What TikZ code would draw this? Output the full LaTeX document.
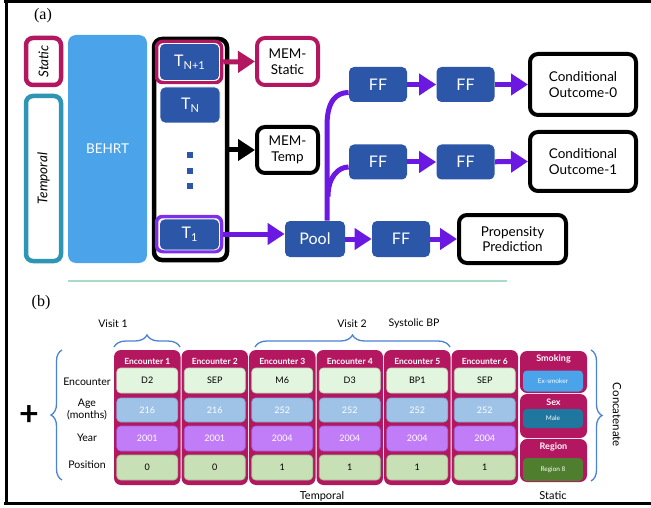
\documentclass[tikz,border=0pt]{standalone}
\usepackage{fontspec}
\setmainfont{Lato}
\newfontfamily\serifa{Liberation Serif}
\usetikzlibrary{arrows.meta,decorations.pathreplacing,calc}
\definecolor{mag}{HTML}{B3175F}
\definecolor{teal}{HTML}{2E96B4}
\definecolor{bhblue}{HTML}{4BA3E9}
\definecolor{dblue}{HTML}{2C56A7}
\definecolor{purp}{HTML}{6A18E2}
\definecolor{tpurp}{HTML}{7D2FEA}
\definecolor{braceb}{HTML}{4C82D4}
\definecolor{ca}{HTML}{E1F5DF}\definecolor{cad}{HTML}{B9D4B4}
\definecolor{cb}{HTML}{9EC3E7}\definecolor{cbd}{HTML}{7FA6CC}
\definecolor{cc}{HTML}{C17DF8}\definecolor{ccd}{HTML}{A060DA}
\definecolor{cd}{HTML}{C7E0B5}\definecolor{cdd}{HTML}{9FBF8C}
\definecolor{male}{HTML}{1F77A0}
\definecolor{regg}{HTML}{4E7E2E}
\definecolor{sepg}{HTML}{A9DCC6}
\begin{document}
\begin{tikzpicture}[x=1pt,y=-1pt,
  tbox/.style={fill=dblue, draw=white, line width=0.8pt, rounded corners=5pt, text=white, inner sep=0pt,
     minimum width=60pt, minimum height=36pt, font=\fontsize{16}{16}\selectfont},
  wbox/.style={draw=black, line width=4pt, rounded corners=8pt, fill=white, align=center, inner sep=0pt,
     font=\fontsize{13.5}{15.5}\selectfont},
  arr/.style={line width=5pt, -{Triangle[length=17pt,width=21pt]}},
  pline/.style={line width=5pt, purp},
  encol/.style={fill=mag, rounded corners=7pt, minimum width=66.5pt, minimum height=135pt, inner sep=0pt},
  enchead/.style={text=white, font=\bfseries\fontsize{8.5}{9}\selectfont, inner sep=0pt},
  cell/.style={rounded corners=4pt, line width=0.7pt, minimum width=61pt, minimum height=24pt, inner sep=0pt,
     font=\fontsize{9}{9}\selectfont},
  stbox/.style={fill=mag, rounded corners=7pt, minimum width=67pt, inner sep=0pt},
  sthead/.style={text=white, font=\bfseries\fontsize{9}{9}\selectfont, inner sep=0pt},
  stcell/.style={rounded corners=4pt, minimum width=60pt, inner sep=0pt, text=white, font=\fontsize{6.5}{7}\selectfont},
  rowlab/.style={align=center, inner sep=0pt, font=\fontsize{10.5}{12}\selectfont},
  brc/.style={draw=braceb, line width=1.3pt, decorate},
  lab/.style={inner sep=0pt, font=\fontsize{10.5}{12}\selectfont}
]
\useasboundingbox (0,0) rectangle (651,508);
\fill[white] (0,0) rectangle (651,508);
% frame
\draw[line width=3.5pt] (4,1.5) -- (651,1.5);
\draw[line width=3.5pt] (4,503.5) -- (651,503.5);
\draw[line width=3pt] (6,0) -- (6,505);
\draw[sepg, line width=1.8pt] (68,281) -- (507,281);

% ---------- panel (a)
\node[inner sep=0pt, font=\serifa\fontsize{16}{16}\selectfont] (la) at (43,16) {(a)};
\node[draw=mag, line width=4.5pt, rounded corners=7pt, rotate=90, minimum width=47pt, minimum height=35pt, inner sep=0pt,
  font=\itshape\fontsize{13.5}{14}\selectfont] (static) at (43.5,61.5) {Static};
\node[draw=teal, line width=4.5pt, rounded corners=7pt, rotate=90, minimum width=165pt, minimum height=35pt, inner sep=0pt,
  font=\itshape\fontsize{13.5}{14}\selectfont] (temporal) at (43.5,178.5) {Temporal};
\node[fill=bhblue, rounded corners=8pt, minimum width=79pt, minimum height=228pt, text=white, inner sep=0pt,
  font=\fontsize{13.5}{14}\selectfont] (behrt) at (107.5,149) {BEHRT};
\node[draw=black, line width=4.5pt, rounded corners=8pt, minimum width=73pt, minimum height=221pt, inner sep=0pt] (stack) at (190.5,149.5) {};
\node[draw=mag, line width=3.5pt, rounded corners=6pt, minimum width=65pt, minimum height=41pt, inner sep=0pt] (tn1f) at (189,62) {};
\node[tbox, minimum height=37pt] (tn1) at (189.5,62) {T\raisebox{-3pt}{\fontsize{11}{11}\selectfont N+1}};
\node[tbox] (tn) at (190,105) {T\raisebox{-3pt}{\fontsize{11}{11}\selectfont N}};
\foreach \k/\yy in {1/155,2/171,3/186}{
  \node[fill=dblue, minimum size=6pt, inner sep=0pt] (dot\k) at (190,\yy) {};
}
\node[draw=tpurp, line width=3.5pt, rounded corners=6pt, minimum width=65pt, minimum height=35pt, inner sep=0pt] (t1f) at (189,234) {};
\node[tbox, minimum height=31pt] (t1) at (189.5,234.5) {T\raisebox{-3pt}{\fontsize{11}{11}\selectfont 1}};
\node[wbox, draw=mag, minimum width=61pt, minimum height=47pt] (mems) at (287.5,61.5) {MEM-\\Static};
\node[wbox, minimum width=61pt, minimum height=46pt] (memt) at (287.5,150) {MEM-\\Temp};
\node[tbox, draw=none] (pool) at (315,239) {Pool};
\node[tbox, draw=none, minimum width=58pt, minimum height=35pt] (ff1) at (378,84.5) {FF};
\node[tbox, draw=none, minimum width=58pt, minimum height=35pt] (ff2) at (465.5,84.5) {FF};
\node[wbox, minimum width=106pt, minimum height=61pt] (co0) at (583,84.5) {Conditional\\Outcome-0};
\node[tbox, draw=none, minimum width=58pt, minimum height=35pt] (ff3) at (378,162) {FF};
\node[tbox, draw=none, minimum width=58pt, minimum height=35pt] (ff4) at (465.5,162) {FF};
\node[wbox, minimum width=106pt, minimum height=59pt] (co1) at (583,161.5) {Conditional\\Outcome-1};
\node[tbox, draw=none, minimum width=58pt, minimum height=36pt] (ff5) at (401,239) {FF};
\node[wbox, minimum width=107pt, minimum height=48pt] (prop) at (512.5,239) {Propensity\\Prediction};

\draw[arr, mag] (tn1f.east) -- (mems.west);
\draw[arr, black] (stack.east |- memt.west) -- (memt.west);
\draw[arr, purp] (t1f.east) -- (pool.west |- t1f.east);
\draw[pline] ([xshift=12pt]pool.north) -- ++(0,-95) .. controls +(0,-25) and +(-12,0) .. ([yshift=-8pt]ff1.west);
\draw[pline] ([xshift=13pt,yshift=24pt]pool.north) .. controls +(0,-20) and +(-10,0) .. ([yshift=-5pt]ff3.west);
\draw[arr, purp] (ff1) -- (ff2);
\draw[arr, purp] (ff2) -- (co0.west);
\draw[arr, purp] (ff3) -- (ff4);
\draw[arr, purp] (ff4) -- (co1.west);
\draw[arr, purp] (pool) -- (ff5);
\draw[arr, purp] (ff5) -- (prop.west);

% ---------- panel (b)
\node[inner sep=0pt, font=\serifa\fontsize{16}{16}\selectfont] (lb) at (41,303) {(b)};
\node[lab] (v1) at (113,324) {Visit 1};
\node[lab] (v2) at (352,324) {Visit 2};
\node[lab] (sbp) at (414,324) {Systolic BP};
\coordinate (b1a) at (114,347); \coordinate (b1b) at (180,347);
\coordinate (b2a) at (255,347); \coordinate (b2b) at (450,347);
\coordinate (bla) at (62,480); \coordinate (blb) at (62,350);
\coordinate (bra) at (591,350); \coordinate (brb) at (591,481);
\draw[brc, decoration={brace, amplitude=12pt}] (b1a) -- (b1b);
\draw[brc, decoration={brace, amplitude=12pt}] (b2a) -- (b2b);
\draw[brc, decoration={brace, amplitude=11pt}] (bla) -- (blb);
\draw[brc, decoration={brace, amplitude=11pt}] (bra) -- (brb);
\node[inner sep=0pt, font=\bfseries\fontsize{34}{34}\selectfont] (plus) at (29,416) {+};
\node[rowlab] (rl1) at (87,382) {Encounter};
\node[rowlab] (rl2) at (87,410) {Age\\(months)};
\node[rowlab] (rl3) at (87,438) {Year};
\node[rowlab] (rl4) at (87,465) {Position};

\foreach \i/\e/\a/\yr/\p in {1/D2/216/2001/0, 2/SEP/216/2001/0, 3/M6/252/2004/1, 4/D3/252/2004/1, 5/BP1/252/2004/1, 6/SEP/252/2004/1} {
  \pgfmathsetmacro\cx{147.25+67.5*(\i-1)}
  \node[encol] (col\i) at (\cx,417.5) {};
  \node[enchead] (h\i) at (\cx,361) {Encounter \i};
  \node[cell, fill=ca, draw=cad, minimum height=25pt] (e\i) at (\cx,380.5) {\e};
  \node[cell, fill=cb, draw=cbd, text=white] (a\i) at (\cx,410) {\a};
  \node[cell, fill=cc, draw=ccd, text=white, minimum height=25pt] (y\i) at (\cx,438.5) {\yr};
  \node[cell, fill=cd, draw=cdd, minimum height=25pt] (p\i) at (\cx,467.5) {\p};
}

\node[stbox, minimum height=42pt] (smk) at (553.5,372) {};
\node[stbox, minimum height=44pt] (sex) at (553.5,416) {};
\node[stbox, minimum height=43pt] (reg) at (553.5,460.5) {};
\fill[white] (520,389) -- (524,393) -- (520,397) -- cycle;
\fill[white] (520,435) -- (524,439) -- (520,443) -- cycle;
\node[sthead] (smkh) at (553.5,358.5) {Smoking};
\node[sthead] (sexh) at (553.5,402) {Sex};
\node[sthead] (regh) at (553.5,447) {Region};
\node[stcell, fill=bhblue, minimum height=21pt] (exs) at (553,381) {Ex-smoker};
\node[stcell, fill=male, minimum height=19pt] (mal) at (553,418.5) {Male};
\node[stcell, fill=regg, minimum height=23pt] (r8) at (553,469.5) {Region 8};
\node[inner sep=0pt, rotate=-90, font=\fontsize{11.5}{12}\selectfont] (conc) at (617,415) {Concatenate};
\node[lab, font=\fontsize{11}{12}\selectfont] (tmpl) at (322,496) {Temporal};
\node[lab, font=\fontsize{11}{12}\selectfont] (stl) at (553,496) {Static};
\end{tikzpicture}
\end{document}
